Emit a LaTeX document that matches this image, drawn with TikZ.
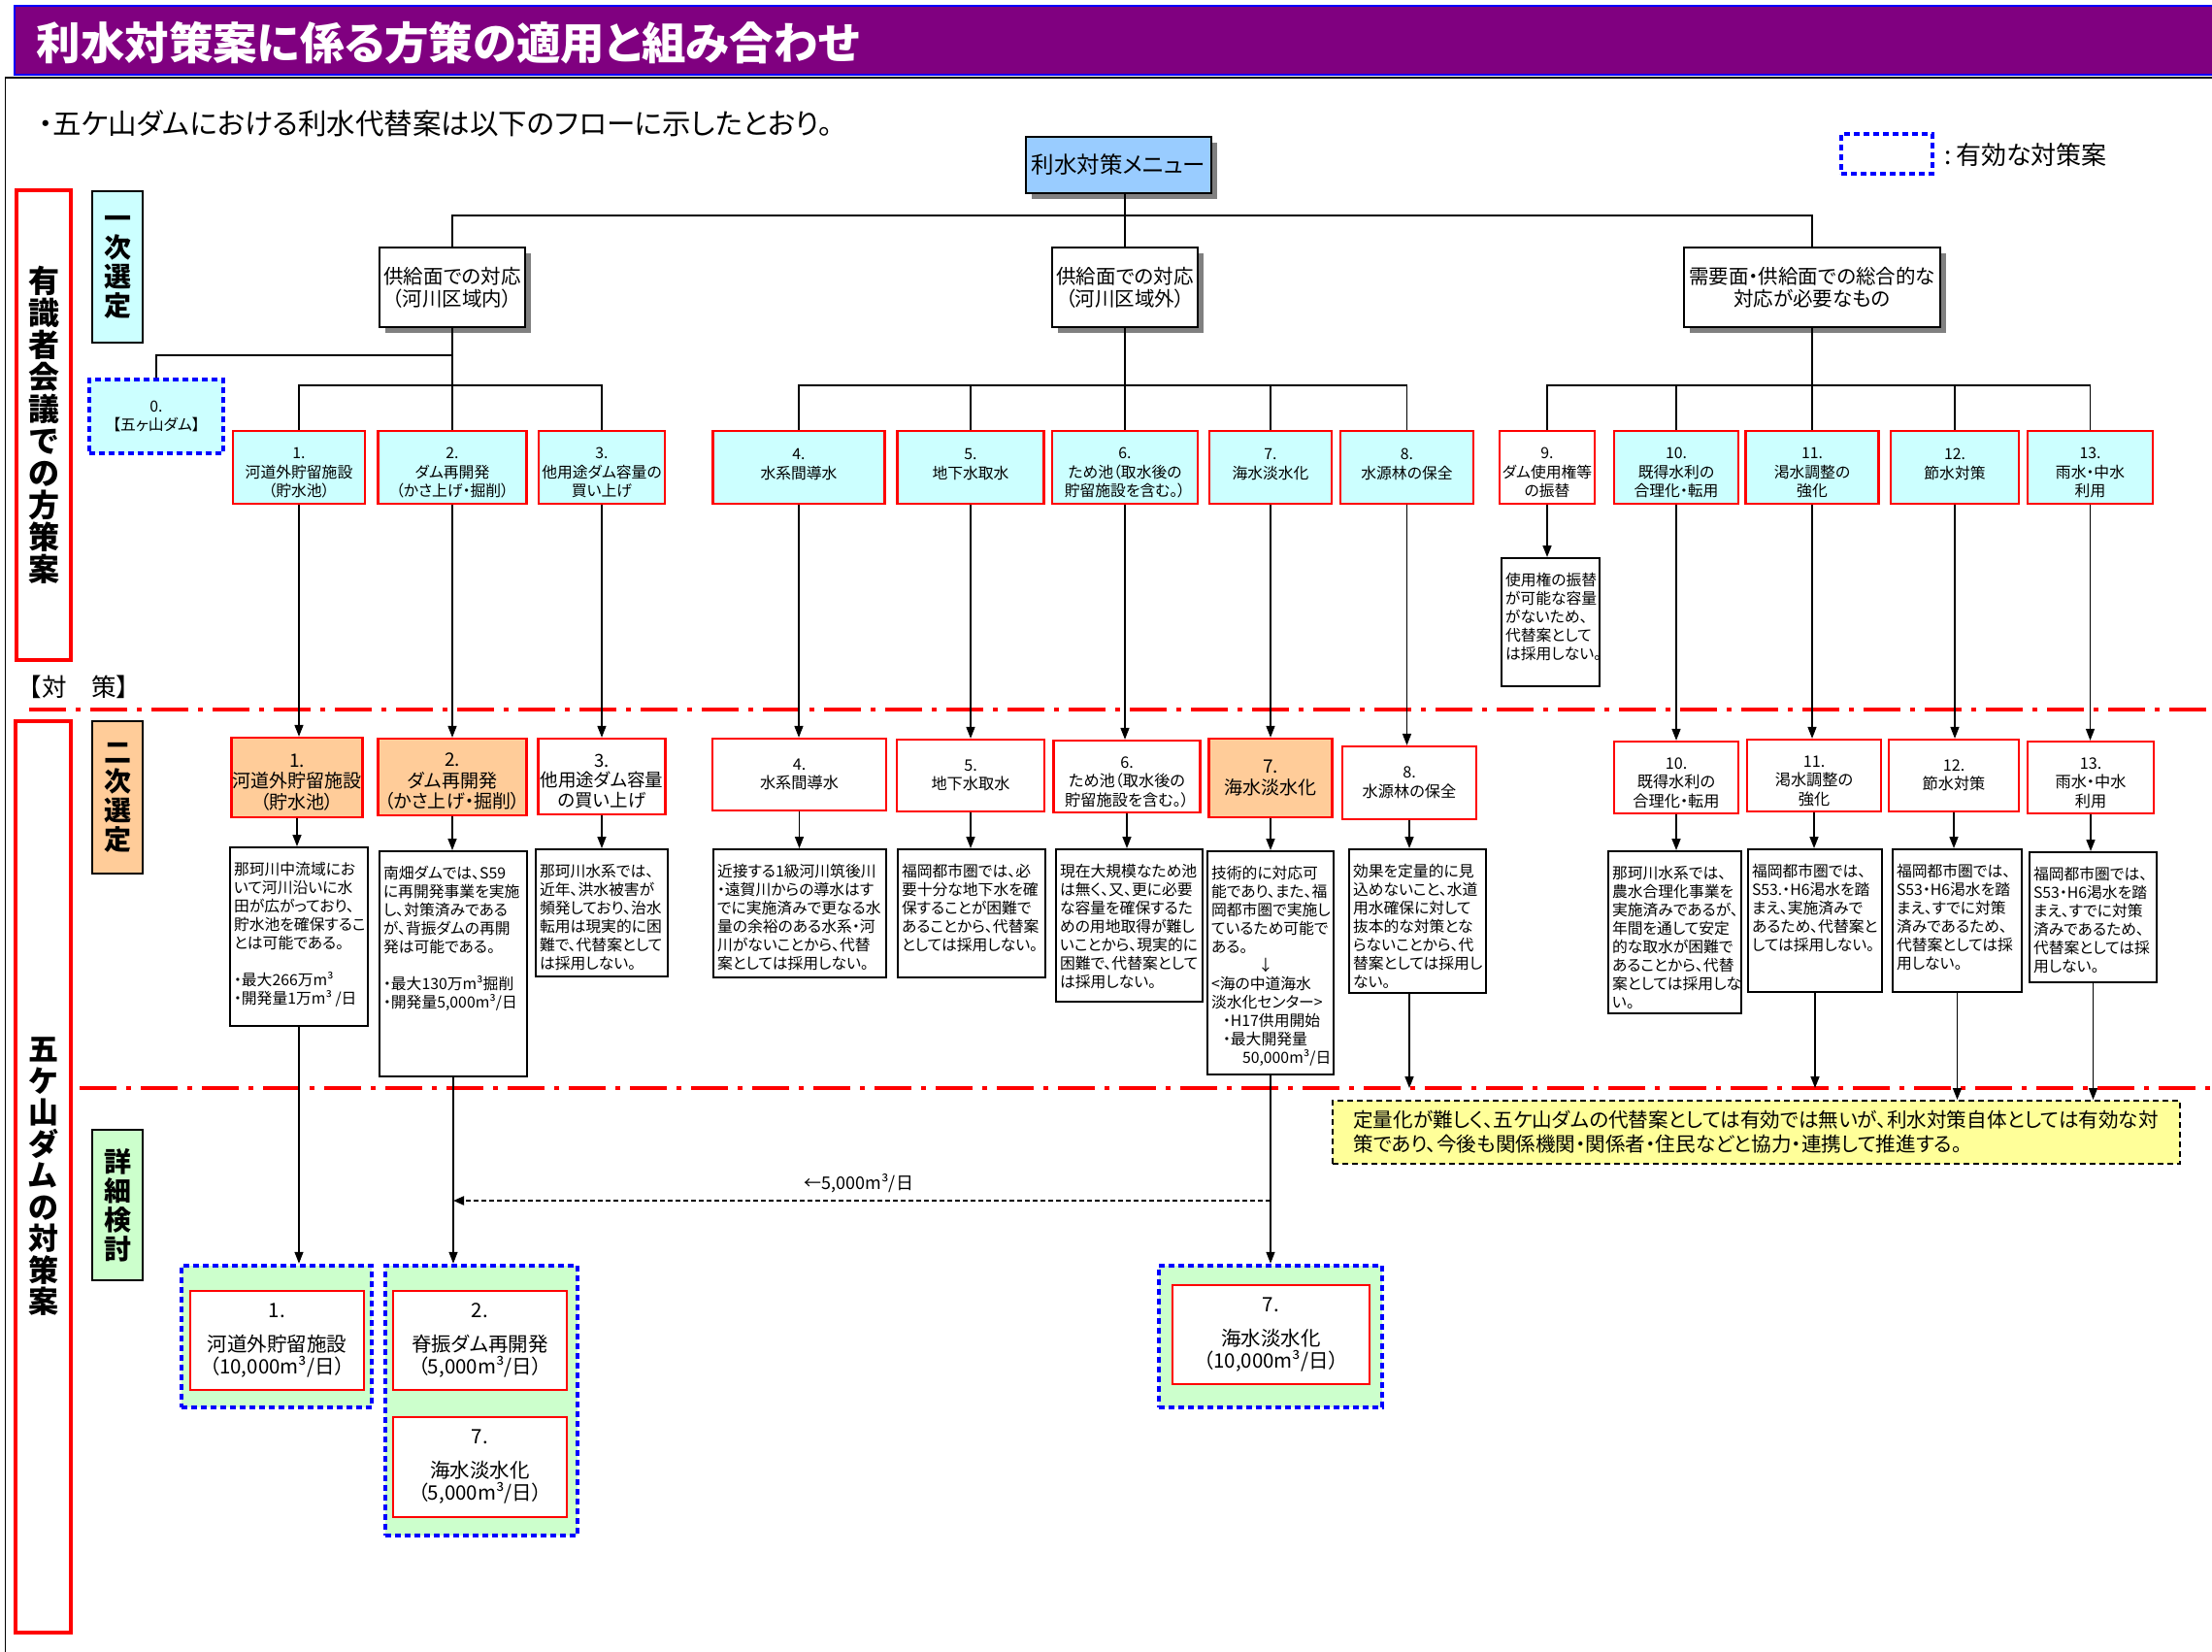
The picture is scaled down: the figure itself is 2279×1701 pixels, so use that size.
\documentclass[tikz,border=0pt]{standalone}
\usepackage{fontspec}
\setmainfont{Noto Sans CJK JP}[RawFeature=+palt]
\usetikzlibrary{arrows.meta,shadows}

\definecolor{titlepurple}{HTML}{800080}
\definecolor{menublue}{HTML}{99CCFF}
\definecolor{paleCyan}{HTML}{CCFFFF}
\definecolor{paleOrange}{HTML}{FFCC99}
\definecolor{paleGreen}{HTML}{CCFFCC}
\definecolor{paleYellow}{HTML}{FFFF99}
\definecolor{shadowgray}{HTML}{808080}
\definecolor{boxred}{HTML}{FF0000}
\definecolor{dotblue}{HTML}{0000FF}

\newcommand{\fsz}[2]{\fontsize{#1}{#2}\selectfont}
% text block of a fixed-size box, set from its top-left corner
\newcommand{\boxtext}[3]{\parbox[c][#2pt][t]{#1pt}{\raggedright\rule{0pt}{28pt}#3}}
% extra head room that lowers a centred block of three lines
\newcommand{\hd}{\rule{0pt}{23pt}}

\begin{document}
\begin{tikzpicture}[x=1pt,y=-1pt,
  conn/.style={line width=1.5pt},
  arr/.style={conn,-{Triangle[length=12pt,width=9pt]}},
  boxshadow/.style={drop shadow={shadow xshift=6pt,shadow yshift=-6pt,fill=shadowgray,opacity=1}},
  catbox/.style={draw=black,line width=1.5pt,fill=white,align=center,inner sep=0pt,
                 boxshadow,minimum height=82pt,font=\fsz{20.5}{23}},
  opt/.style={draw=boxred,line width=2.3pt,fill=paleCyan,align=center,inner sep=0pt,
              minimum height=75pt,font=\fsz{15.8}{19.5}},
  optw/.style={opt,fill=white},
  sel/.style={draw=boxred,line width=2.3pt,fill=white,align=center,inner sep=0pt,
              minimum height=74pt,font=\fsz{16.2}{19.5}},
  selhi/.style={sel,fill=paleOrange,font=\fsz{19}{21.5}},
  explbox/.style={draw=black,line width=2pt,fill=white,anchor=north west,
                  inner xsep=4pt,inner ysep=0pt,font=\fsz{15.8}{19}},
  dotbox/.style={draw=dotblue,line width=4.5pt,dash pattern=on 6pt off 4pt,inner sep=0pt},
  group/.style={dotbox,fill=paleGreen},
  result/.style={draw=boxred,line width=2.3pt,fill=white,align=center,inner sep=0pt,
                 font=\fsz{20.5}{23}},
  vlabel/.style={draw=boxred,line width=3.5pt,fill=white,align=center,inner sep=0pt,
                 font=\fsz{32}{33}\bfseries},
  stage/.style={draw=black,line width=1.5pt,align=center,inner sep=0pt,
                minimum width=52pt,font=\fsz{28}{30}\bfseries},
  divider/.style={draw=red,line width=4pt,dash pattern=on 38pt off 10pt on 5pt off 10pt}]

\useasboundingbox (0,0) rectangle (2279,1701);
\fill[white] (0,0) rectangle (2279,1701);

% title bar and frame
\draw[draw=dotblue,fill=titlepurple,line width=2.5pt] (15,6) rectangle (2295,77);
\draw[line width=1.5pt] (5.5,1710) -- (5.5,80) -- (2290,80);
\node[anchor=west,text=white,font=\fsz{45.5}{50}\bfseries] (title) at (34,44)
  {利水対策案に係る方策の適用と組み合わせ};
\node[anchor=west,font=\fsz{29.5}{32}] (lead) at (36,127)
  {・五ケ山ダムにおける利水代替案は以下のフローに示したとおり。};

% stage dividers
\draw[divider] (30,731) -- (2279,731);
\draw[divider] (82,1121) -- (2279,1121);

% left column
\node[vlabel,minimum width=56pt,minimum height=484pt] (lab1) at (45,438)
  {有\\識\\者\\会\\議\\で\\の\\方\\策\\案};
\node[stage,fill=paleCyan,minimum height=156pt] (st1) at (121,275) {一\\次\\選\\定};
\node[anchor=west,font=\fsz{25.5}{28}\addfontfeature{RawFeature=-palt}] (taisaku) at (14,708) {【対　策】};
\node[vlabel,minimum width=57pt,minimum height=939pt,font=\fsz{31}{32.5}\bfseries] (lab2)
  at (44.5,1212.5) {五\\ケ\\山\\ダ\\ム\\の\\対\\策\\案};
\node[stage,fill=paleOrange,minimum height=157pt] (st2) at (121,821.5) {二\\次\\選\\定};
\node[stage,fill=paleGreen,minimum height=155pt] (st3) at (121,1241.5) {詳\\細\\検\\討};

% legend
\node[dotbox,minimum width=94pt,minimum height=41pt] (leg) at (1944,158.5) {};
\node[anchor=west,font=\fsz{26}{28}] (legtxt) at (2000,160) {:\,有効な対策案};

% menu and categories
\node[draw=black,line width=1.5pt,fill=menublue,minimum width=191pt,minimum height=58pt,
      inner sep=0pt,boxshadow,font=\fsz{23.5}{26}] (menu) at (1152.5,170) {利水対策メニュー};
\node[catbox,minimum width=150pt] (cat1) at (466,296) {供給面での対応\\（河川区域内）};
\node[catbox,minimum width=150pt] (cat2) at (1159,296) {供給面での対応\\（河川区域外）};
\node[catbox,minimum width=264pt] (cat3) at (1867,296) {需要面・供給面での総合的な\\対応が必要なもの};

% first screening: measures
\node[dotbox,fill=paleCyan,minimum width=138pt,minimum height=76pt,align=center,
      font=\fsz{15.8}{19.5}] (b0) at (161,429) {0.\\【五ヶ山ダム】};
\node[opt,minimum width=136pt] (b1) at (308,481.5) {\hd 1.\\河道外貯留施設\\（貯水池）};
\node[opt,minimum width=153pt] (b2) at (466,481.5) {\hd 2.\\ダム再開発\\（かさ上げ・掘削）};
\node[opt,minimum width=130pt] (b3) at (620,481.5) {\hd 3.\\他用途ダム容量の\\買い上げ};
\node[opt,minimum width=177pt] (b4) at (823,481.5) {\hd 4.\\水系間導水\\\mbox{}};
\node[opt,minimum width=151pt] (b5) at (1000,481.5) {\hd 5.\\地下水取水\\\mbox{}};
\node[opt,minimum width=150pt] (b6) at (1159,481.5) {\hd 6.\\ため池（取水後の\\貯留施設を含む。）};
\node[opt,minimum width=126pt] (b7) at (1309,481.5) {\hd 7.\\海水淡水化\\\mbox{}};
\node[opt,minimum width=137pt] (b8) at (1449.5,481.5) {\hd 8.\\水源林の保全\\\mbox{}};
\node[optw,minimum width=98pt] (b9) at (1594,481.5) {\hd 9.\\ダム使用権等\\の振替};
\node[opt,minimum width=128pt] (b10) at (1727,481.5) {\hd 10.\\既得水利の\\合理化・転用};
\node[opt,minimum width=137pt] (b11) at (1867,481.5) {\hd 11.\\渇水調整の\\強化};
\node[opt,minimum width=132pt] (b12) at (2014,481.5) {\hd 12.\\節水対策\\\mbox{}};
\node[opt,minimum width=129pt] (b13) at (2153.5,481.5) {\hd 13.\\雨水・中水\\利用};

\node[explbox] (n9) at (1546,574) {\boxtext{93}{132}{使用権の振替\\が可能な容量\\がないため、\\代替案として\\は採用しない。}};

% second screening: measures
\node[selhi,minimum width=135pt,minimum height=82pt] (r1) at (306,801) {\hd 1.\\河道外貯留施設\\（貯水池）};
\node[selhi,minimum width=153pt,minimum height=79pt] (r2) at (466,800.5) {\hd 2.\\ダム再開発\\（かさ上げ・掘削）};
\node[sel,minimum width=131pt,minimum height=78pt,font=\fsz{18.5}{20.5}] (r3) at (620,800) {\hd 3.\\他用途ダム容量\\の買い上げ};
\node[sel,minimum width=179pt] (r4) at (823.5,798) {4.\\水系間導水};
\node[sel,minimum width=152pt] (r5) at (1000,799) {5.\\地下水取水};
\node[sel,minimum width=151pt] (r6) at (1161,800) {\hd 6.\\ため池（取水後の\\貯留施設を含む。）};
\node[selhi,minimum width=127pt,minimum height=81pt] (r7) at (1309,801.5) {7.\\海水淡水化};
\node[sel,minimum width=138pt,minimum height=75pt] (r8) at (1452,806.5) {8.\\水源林の保全};
\node[sel,minimum width=128pt] (r10) at (1727,801) {\hd 10.\\既得水利の\\合理化・転用};
\node[sel,minimum width=138pt] (r11) at (1869,799) {\hd 11.\\渇水調整の\\強化};
\node[sel,minimum width=134pt] (r12) at (2013,799) {12.\\節水対策};
\node[sel,minimum width=130pt] (r13) at (2154,801) {\hd 13.\\雨水・中水\\利用};

% second screening: reasons
\node[explbox] (e1) at (236,872) {\boxtext{134}{184}{那珂川中流域にお\\いて河川沿いに水\\田が広がっており、\\貯水池を確保するこ\\とは可能である。\\[19pt]・最大266万m³\\・開発量1万m³ /日}};
\node[explbox] (e2) at (390,876) {\boxtext{144}{232}{南畑ダムでは、S59\\に再開発事業を実施\\し、対策済みである\\が、背振ダムの再開\\発は可能である。\\[19pt]・最大130万m³掘削\\・開発量5,000m³/日}};
\node[explbox] (e3) at (551,874) {\boxtext{128}{131}{那珂川水系では、\\近年、洪水被害が\\頻発しており、治水\\転用は現実的に困\\難で、代替案として\\は採用しない。}};
\node[explbox] (e4) at (734,874) {\boxtext{170}{132}{近接する1級河川筑後川\\・遠賀川からの導水はす\\でに実施済みで更なる水\\量の余裕のある水系・河\\川がないことから、代替\\案としては採用しない。}};
\node[explbox] (e5) at (924,874) {\boxtext{144}{132}{福岡都市圏では、必\\要十分な地下水を確\\保することが困難で\\あることから、代替案\\としては採用しない。}};
\node[explbox] (e6) at (1087,874) {\boxtext{143}{157}{現在大規模なため池\\は無く、又、更に必要\\な容量を確保するた\\めの用地取得が難し\\いことから、現実的に\\困難で、代替案として\\は採用しない。}};
\node[explbox] (e7) at (1243,876) {\boxtext{122}{230}{技術的に対応可\\能であり、また、福\\岡都市圏で実施し\\ているため可能で\\ある。\\\hspace*{48pt}↓\\<海の中道海水\\淡水化センター>\\\hspace*{12pt}・H17供用開始\\\hspace*{12pt}・最大開発量\\\hspace*{32pt}50,000m³/日}};
\node[explbox] (e8) at (1389,874) {\boxtext{133}{148}{効果を定量的に見\\込めないこと、水道\\用水確保に対して\\抜本的な対策とな\\らないことから、代\\替案としては採用し\\ない。}};
\node[explbox] (e10) at (1656,876) {\boxtext{129}{167}{那珂川水系では、\\農水合理化事業を\\実施済みであるが、\\年間を通して安定\\的な取水が困難で\\あることから、代替\\案としては採用しな\\い。}};
\node[explbox] (e11) at (1800,874) {\boxtext{130}{147}{福岡都市圏では、\\S53.・H6渇水を踏\\まえ、実施済みで\\あるため、代替案と\\しては採用しない。}};
\node[explbox] (e12) at (1949,874) {\boxtext{125}{147}{福岡都市圏では、\\S53・H6渇水を踏\\まえ、すでに対策\\済みであるため、\\代替案としては採\\用しない。}};
\node[explbox] (e13) at (2090,877) {\boxtext{123}{134}{福岡都市圏では、\\S53・H6渇水を踏\\まえ、すでに対策\\済みであるため、\\代替案としては採\\用しない。}};

% detailed study
\node[group,minimum width=196pt,minimum height=146pt] (g1) at (285,1377) {};
\node[result,minimum width=179pt,minimum height=102pt] (i1) at (285.5,1381)
  {1.\\[12pt]河道外貯留施設\\（10,000m³/日）};
\node[group,minimum width=198pt,minimum height=278pt] (g2) at (496,1443) {};
\node[result,minimum width=179pt,minimum height=102pt] (i2) at (494.5,1381)
  {2.\\[12pt]脊振ダム再開発\\（5,000m³/日）};
\node[result,minimum width=179pt,minimum height=103pt] (i7a) at (494.5,1511.5)
  {7.\\[12pt]海水淡水化\\（5,000m³/日）};
\node[group,minimum width=230pt,minimum height=146pt] (g3) at (1309,1377) {};
\node[result,minimum width=203pt,minimum height=102pt] (i7b) at (1309.5,1375)
  {7.\\[12pt]海水淡水化\\（10,000m³/日）};

\node[draw=black,line width=2pt,dash pattern=on 6pt off 4pt,fill=paleYellow,
      minimum width=873pt,minimum height=65pt,inner sep=0pt,align=left,
      font=\fsz{20.6}{25}] (yel) at (1809,1166.5)
  {定量化が難しく、五ケ山ダムの代替案としては有効では無いが、利水対策自体としては有効な対\\策であり、今後も関係機関・関係者・住民などと協力・連携して推進する。};

% connectors: menu tree
\coordinate (yA) at (0,222);
\coordinate (yB) at (0,397);
\coordinate (yC) at (0,366);
\coordinate (L2) at (0,1121);
\coordinate (dy) at (0,1237);

\draw[conn] (menu.south -| cat2.north) -- (cat2.north);
\draw[conn] (cat1.north) |- (cat3.north |- yA) -- (cat3.north);

\draw[conn] (cat1.south) -- (b2.north);
\draw[conn] (b1.north) |- (b3.north |- yB) -- (b3.north);
\draw[conn] (cat1.south |- yC) -| (b0.north);

\draw[conn] (cat2.south) -- (b6.north);
\draw[conn] (b4.north) |- (b8.north |- yB) -- (b8.north);
\draw[conn] (b5.north) -- (b5.north |- yB);
\draw[conn] (b7.north) -- (b7.north |- yB);

\draw[conn] (cat3.south) -- (b11.north);
\draw[conn] (b9.north) |- (b13.north |- yB) -- (b13.north);
\draw[conn] (b10.north) -- (b10.north |- yB);
\draw[conn] (b12.north) -- (b12.north |- yB);

% connectors: screening flow
\foreach \i in {1,2,3,4,5,6,7,8,10,11,12,13} {
  \draw[arr] (b\i.south) -- (b\i.south |- r\i.north);
  \draw[arr] (r\i.south) -- (r\i.south |- e\i.north);
}
\draw[arr] (b9.south) -- (b9.south |- n9.north);

\draw[arr] (e1.south) -- (e1.south |- g1.north);
\draw[arr] (e2.south) -- (e2.south |- g2.north);
\draw[arr] (e7.south) -- (e7.south |- g3.north);
\draw[arr] (e8.south -| r8.south) -- (r8.south |- L2);
\draw[arr] (e11.south) -- (e11.south |- L2);
\draw[arr] (e12.south) -- (e12.south |- yel.north);
\draw[arr] (e13.south) -- (e13.south |- yel.north);

\draw[line width=2pt,dash pattern=on 5pt off 3pt,-{Triangle[length=11pt,width=9pt]}]
  (e7.south |- dy) -- (e2.south |- dy);
\node[font=\fsz{18}{20}] (share) at (885,1219) {←5,000m³/日};

\end{tikzpicture}
\end{document}
